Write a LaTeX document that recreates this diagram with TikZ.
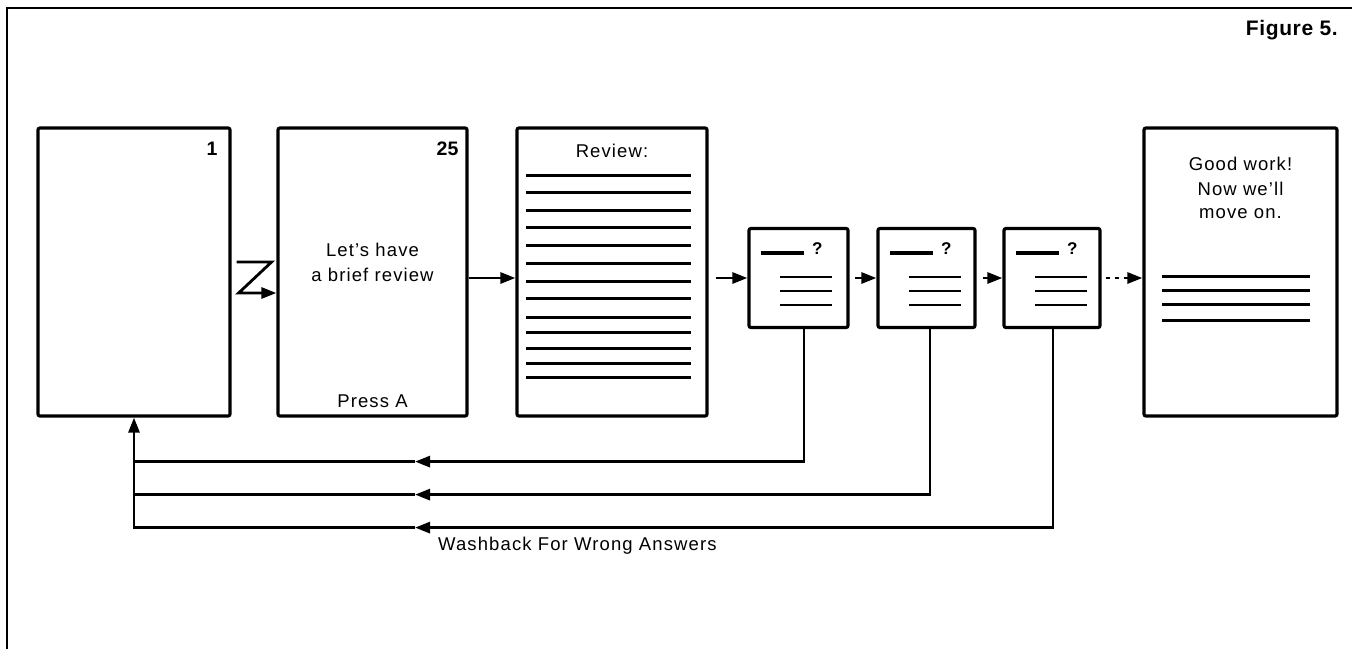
\documentclass[tikz,border=0pt]{standalone}
\usepackage{fontspec}
\setmainfont{Liberation Sans}
\newfontfamily\lbl{Liberation Sans}[LetterSpace=6]
\newfontfamily\figfont{Liberation Sans}[LetterSpace=3]
\usetikzlibrary{arrows.meta,calc}
\begin{document}
\begin{tikzpicture}[x=1pt,y=-1pt,
  card/.style={draw,line width=3.2pt,rounded corners=2pt,inner sep=0pt,minimum width=#1,minimum height=288pt},
  qbox/.style={draw,line width=3.2pt,rounded corners=2pt,inner sep=0pt,minimum width=#1,minimum height=99pt},
  body/.style={font=\lbl\fontsize{18.5}{25}\selectfont,inner sep=0pt},
  num/.style={font=\bfseries\fontsize{19.5}{22}\selectfont,inner sep=0pt},
  qmark/.style={font=\bfseries\fontsize{17}{18}\selectfont,inner sep=0pt},
  figlbl/.style={font=\figfont\bfseries\fontsize{21}{24}\selectfont,inner sep=0pt},
  conn/.style={line width=2.8pt,line join=miter},
  arr/.style={conn,-{Triangle[length=15pt,width=11pt]}},
  txtline/.style={line width=2.2pt},
  blankline/.style={line width=3.2pt},
  frameline/.style={line width=1.2pt}
]
\useasboundingbox (0,0) rectangle (1356,649);
% frame
\draw[frameline] (7,649) -- (7,8) -- (1352,8);
\node[figlbl,anchor=east] (fig) at (1338,30) {Figure 5.};

% cards
\node[card=192pt] (b1) at (134,272) {};
\node[card=189pt] (b2) at (372.5,272) {};
\node[card=190pt] (b3) at (612,272) {};
\node[qbox=99pt] (q1) at (798.5,278) {};
\node[qbox=97pt] (q2) at (926.5,278) {};
\node[qbox=96pt] (q3) at (1052,278) {};
\node[card=193pt] (fin) at (1240.5,272) {};

% texts
\node[num,anchor=east] (n1) at ($(b1.north east)+(-14,22)$) {1};
\node[num,anchor=east] (n25) at ($(b2.north east)+(-10,22)$) {25};
\node[body,align=center] (lh) at (372.5,262.5) {Let’s have\\a brief review};
\node[body] (pa) at ($(b2.south)+(0,-16)$) {Press A};
\node[body] (rv) at ($(b3.north)+(0,24)$) {Review:};
\node[body] (gw) at ($(fin.north)+(0,37)$) {Good work!};
\node[body,align=center,font=\lbl\fontsize{18.5}{23}\selectfont] (nw) at ($(fin.north)+(0,74)$) {Now we’ll\\move on.};

% review lines
\begin{scope}[shift={(b3.north west)}]
  \draw[blankline] (11,49) -- (176,49);
  \foreach \yy in {66,84,101,119,137,155,172,191,206,222,237,251}
    \draw[txtline] (11,\yy) -- (176,\yy);
\end{scope}

% question boxes contents
\foreach \q in {q1,q2,q3}{
  \begin{scope}[shift={(\q.north west)}]
    \draw[blankline] (14,26) -- (57,26);
    \node[qmark] (\q-m) at (70,22) {?};
    \foreach \yy in {50,64,78}
      \draw[txtline] (33,\yy) -- (85,\yy);
  \end{scope}
}

% final box lines
\begin{scope}[shift={(fin.north west)}]
  \foreach \yy in {150,164,178,194}
    \draw[txtline] (20,\yy) -- (168,\yy);
\end{scope}

% forward connectors
\draw[arr] ([xshift=5pt,yshift=10pt]b1.east) -- ++(35,0) -- ++(-33,31) -- ([yshift=-21pt]b2.west);
\draw[arr] ([yshift=-6pt]b2.east) -- ([yshift=-6pt]b3.west);
\draw[arr] ($(b3.east |- q1.west)+(7,0)$) -- (q1.west);
\draw[arr] ($(q1.east)+(5,0)$) -- (q2.west);
\draw[arr] ($(q2.east)+(6,0)$) -- (q3.west);
\draw[conn,dash pattern=on 4pt off 5pt,-{Triangle[length=15pt,width=11pt]}] ($(q3.east)+(4,0)$) -- (fin.west |- q3.east);

% washback connectors
\coordinate (r1) at ($(b1.south)+(0,44)$);
\coordinate (r2) at ($(b1.south)+(0,77)$);
\coordinate (r3) at ($(b1.south)+(0,110)$);
\coordinate (t1) at ($(r1)+(281,0)$);
\coordinate (t2) at ($(r2)+(281,0)$);
\coordinate (t3) at ($(r3)+(281,0)$);
\draw[arr] ($(q1.south)+(5.5,0)$) |- (t1);
\draw[arr] ($(q2.south)+(3.5,0)$) |- (t2);
\draw[arr] ($(q3.south)+(1,0)$) |- (t3);
\draw[conn] (t1) -- (r1);
\draw[conn] (t2) -- (r2);
\draw[arr] (t3) -- (r3) -- (b1.south);
\node[body,anchor=west] (wash) at ($(t3)+(23,18)$) {Washback For Wrong Answers};
\end{tikzpicture}
\end{document}
